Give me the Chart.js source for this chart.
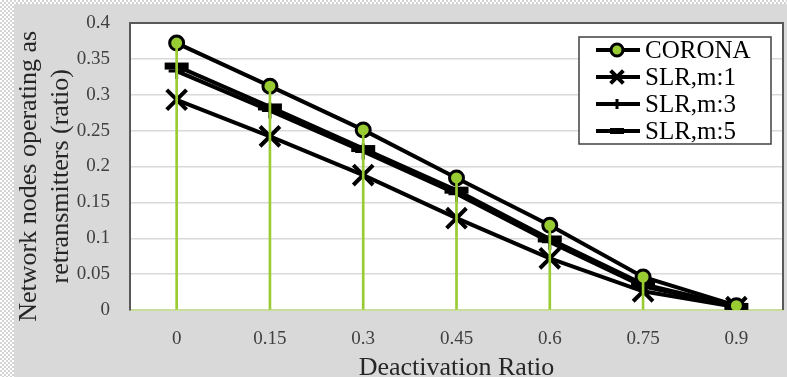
<!DOCTYPE html>
<html>
<head>
<meta charset="utf-8">
<script src="https://cdn.jsdelivr.net/npm/chart.js"></script>
<style>
  html, body { margin: 0; padding: 0; }
  body {
    width: 787px; height: 377px; overflow: hidden;
    background: repeating-conic-gradient(#d4d4d4 0 25%, #ffffff 0 50%) 0 0 / 4px 4px;
  }
  #wrap { position: absolute; left: 14px; top: 4px; width: 773px; height: 373px; }
</style>
</head>
<body>
<div id="wrap"><canvas id="chart" width="773" height="373"></canvas></div>
<script>
// Données
const categories = ['0', '0.15', '0.3', '0.45', '0.6', '0.75', '0.9'];
const corona = [0.372, 0.312, 0.251, 0.184, 0.118, 0.046, 0.006];
const slrM1 = [0.293, 0.242, 0.188, 0.128, 0.072, 0.026, 0.004];
const slrM3 = [0.333, 0.278, 0.221, 0.162, 0.095, 0.033, 0.005];
const slrM5 = [0.340, 0.283, 0.225, 0.167, 0.099, 0.036, 0.005];
const yTickLabels = ['0', '0.05', '0.1', '0.15', '0.2', '0.25', '0.3', '0.35', '0.4'];

const serif = "'Liberation Serif', 'Times New Roman', serif";
const green = '#99cc33';

// Fond gris + zone de tracé blanche
const backgroundPlugin = {
    id: 'background',
    beforeDraw(chart) {
        const { ctx, chartArea: a } = chart;
        ctx.save();
        ctx.fillStyle = '#d9d9d9';
        ctx.fillRect(0, 0, chart.width, chart.height);
        ctx.fillStyle = '#ffffff';
        ctx.fillRect(a.left, a.top, a.right - a.left, a.bottom - a.top);
        ctx.restore();
    }
};

// Cadre haut/droite + légende encadrée dans la zone de tracé
const frameLegendPlugin = {
    id: 'frameLegend',
    afterDraw(chart) {
        const { ctx, chartArea: a } = chart;
        ctx.save();
        ctx.strokeStyle = '#595959';
        ctx.lineWidth = 2;
        ctx.beginPath();
        ctx.moveTo(a.left, a.top);
        ctx.lineTo(a.right, a.top);
        ctx.lineTo(a.right, a.bottom);
        ctx.stroke();

        const bx = a.right - 204, by = a.top + 14, bw = 192, bh = 107;
        ctx.fillStyle = '#ffffff';
        ctx.fillRect(bx, by, bw, bh);
        ctx.strokeStyle = '#404040';
        ctx.lineWidth = 1.5;
        ctx.strokeRect(bx, by, bw, bh);

        const entries = chart.data.datasets.filter(d => d.type !== 'bar');
        entries.forEach((ds, i) => {
            const y = by + 13 + 27 * i;
            ctx.strokeStyle = '#000';
            ctx.lineWidth = 4;
            ctx.lineCap = 'butt';
            ctx.beginPath();
            ctx.moveTo(bx + 17, y);
            ctx.lineTo(bx + 61, y);
            ctx.stroke();

            ctx.fillStyle = ds.pointBackgroundColor;
            ctx.strokeStyle = ds.pointBorderColor;
            ctx.lineWidth = ds.legendBorderWidth;
            Chart.helpers.drawPoint(ctx, {
                pointStyle: ds.pointStyle,
                radius: ds.legendRadius,
                borderWidth: ds.legendBorderWidth,
                rotation: 0
            }, bx + 38, y);

            ctx.fillStyle = '#000';
            ctx.font = '25px ' + serif;
            ctx.textAlign = 'left';
            ctx.textBaseline = 'middle';
            ctx.fillText(ds.label, bx + 66, y + 1);
        });
        ctx.restore();
    }
};

new Chart(document.getElementById('chart'), {
    type: 'line',
    data: {
        labels: categories,
        datasets: [
            {
                // lignes de rappel verticales (drop lines)
                type: 'bar',
                label: 'drop',
                data: corona,
                backgroundColor: green,
                barThickness: 2,
                order: 0
            },
            {
                label: 'CORONA',
                data: corona,
                borderColor: '#000',
                borderWidth: 4,
                pointStyle: 'circle',
                pointRadius: 7,
                pointBorderWidth: 3,
                pointBackgroundColor: green,
                pointBorderColor: '#000',
                legendRadius: 6,
                legendBorderWidth: 3,
                order: 1
            },
            {
                label: 'SLR,m:1',
                data: slrM1,
                borderColor: '#000',
                borderWidth: 4,
                pointStyle: 'crossRot',
                pointRadius: 14,
                pointBorderWidth: 4,
                pointBackgroundColor: '#000',
                pointBorderColor: '#000',
                legendRadius: 9,
                legendBorderWidth: 4,
                order: 1
            },
            {
                label: 'SLR,m:3',
                data: slrM3,
                borderColor: '#000',
                borderWidth: 4,
                pointStyle: 'cross',
                pointRadius: 8,
                pointBorderWidth: 3,
                pointBackgroundColor: '#000',
                pointBorderColor: '#000',
                legendRadius: 5,
                legendBorderWidth: 3,
                order: 1
            },
            {
                label: 'SLR,m:5',
                data: slrM5,
                borderColor: '#000',
                borderWidth: 4,
                pointStyle: 'line',
                pointRadius: 12,
                pointBorderWidth: 7,
                pointBackgroundColor: '#000',
                pointBorderColor: '#000',
                legendRadius: 7,
                legendBorderWidth: 6,
                order: 1
            }
        ]
    },
    options: {
        responsive: false,
        animation: false,
        layout: { autoPadding: false, padding: { top: 19, right: 4, left: 0, bottom: 0 } },
        plugins: {
            legend: { display: false },
            tooltip: { enabled: false }
        },
        scales: {
            x: {
                offset: true,
                afterFit(scale) {
                    scale.height = 67;
                    scale.paddingLeft = 0;
                    scale.paddingRight = 0;
                },
                grid: { display: false },
                border: { display: true, color: '#c8df9c', width: 2 },
                ticks: {
                    color: '#404040',
                    padding: 10,
                    font: { family: serif, size: 19 }
                },
                title: {
                    display: true,
                    text: 'Deactivation Ratio',
                    color: '#262626',
                    padding: 0,
                    font: { family: serif, size: 26, lineHeight: 0.7 }
                }
            },
            y: {
                min: 0,
                max: 0.4,
                afterFit(scale) {
                    scale.width = 116;
                    scale.paddingTop = 0;
                    scale.paddingBottom = 0;
                },
                afterBuildTicks(scale) {
                    scale.ticks = yTickLabels.map(t => ({ value: parseFloat(t) }));
                },
                grid: {
                    color: ctx => (ctx.tick && ctx.tick.value === 0 ? 'rgba(0,0,0,0)' : '#d9d9d9'),
                    lineWidth: 1.5,
                    drawTicks: false
                },
                border: { display: true, color: '#595959', width: 2 },
                ticks: {
                    color: '#404040',
                    padding: 20,
                    font: { family: serif, size: 19 },
                    callback: (v, i) => yTickLabels[i]
                },
                title: {
                    display: true,
                    text: ['Network nodes operating as   ', 'retransmitters (ratio)   '],
                    color: '#262626',
                    padding: 0,
                    font: { family: serif, size: 26, lineHeight: 1.2 }
                }
            }
        }
    },
    plugins: [backgroundPlugin, frameLegendPlugin]
});
</script>
</body>
</html>
